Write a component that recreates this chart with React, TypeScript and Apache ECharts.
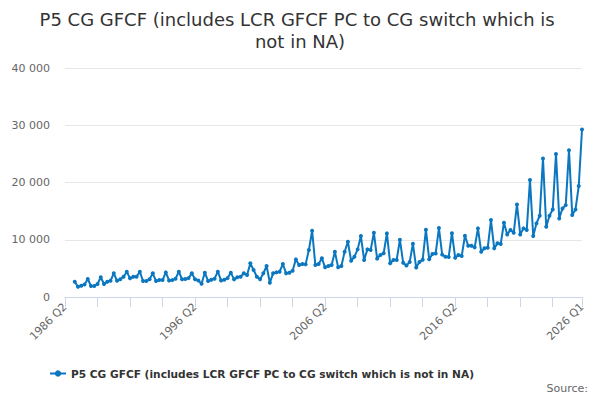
import React, { useEffect, useRef } from 'react';
import * as echarts from 'echarts';

// quarters from 1986 Q2 to 2026 Q1
const quarters: string[] = [];
for (let y = 1986; y <= 2026; y++) {
  for (let q = 1; q <= 4; q++) {
    if (y === 1986 && q < 2) continue;
    if (y === 2026 && q > 1) continue;
    quarters.push(`${y} Q${q}`);
  }
}

// P5 CG GFCF values (series starts 1987 Q1)
const gfcfValues: (number | null)[] = [
  null, null, null,
  2670, 1800, 1970, 2200, 3140, 1920, 1920, 2270, 3440, 2270,
  2670, 2840, 4130, 2840, 3090, 3540, 4420, 3260, 3540, 3540,
  4420, 2790, 2790, 3090, 4130, 2790, 2960, 2960, 4300, 2900,
  2950, 3200, 4420, 3100, 3150, 3300, 4130, 3100, 2900, 2300,
  4250, 2800, 3000, 3200, 4420, 2900, 3000, 3300, 4250, 3080,
  3440, 3540, 4130, 3840, 5880, 4710, 3540, 3090, 4130, 5410,
  2500, 4130, 4300, 4420, 5760, 4130, 4250, 4600, 6570, 5580,
  5760, 5700, 8200, 11570, 5580, 5760, 6750, 5180, 5400, 5600,
  7900, 5180, 5400, 7900, 9650, 6330, 7030, 8320, 10640, 6450,
  8320, 8200, 11220, 6700, 7330, 7630, 11110, 5880, 6460, 6460,
  10000, 6000, 5500, 6100, 9300, 5150, 6100, 6500, 11750, 6600,
  7500, 7600, 12050, 7400, 7030, 7000, 11150, 6860, 7330, 7150,
  10700, 8950, 8950, 8670, 11990, 7900, 8500, 8600, 13440, 8500,
  9370, 9250, 12970, 10930, 11690, 11220, 16170, 10930, 11990, 11690,
  20420, 10640, 12860, 14190, 24200, 12270, 14190, 15300, 24960, 13730,
  15470, 16050, 25650, 14310, 15300, 19380, 29260,
];

const seriesName = 'P5 CG GFCF (includes LCR GFCF PC to CG switch which is not in NA)';
const titleText = 'P5 CG GFCF (includes LCR GFCF PC to CG switch which is not in NA)';

const fmt = (v: number) => String(v).replace(/\B(?=(\d{3})+(?!\d))/g, ' ');

const App: React.FC = () => {
  const chartRef = useRef<HTMLDivElement>(null);

  useEffect(() => {
    if (!chartRef.current) return;
    const chart = echarts.init(chartRef.current, undefined, { renderer: 'svg' });
    const last = quarters.length - 1;

    chart.setOption({
      animation: false,
      textStyle: { fontFamily: 'DejaVu Sans' },
      title: [
        {
          text: titleText,
          left: 'center',
          top: 3,
          textStyle: {
            fontSize: 18,
            fontWeight: 'normal',
            color: '#333333',
            width: 535,
            overflow: 'break',
            lineHeight: 22,
            fontFamily: 'DejaVu Sans',
          },
        },
        {
          text: 'Source:',
          right: 7,
          top: 378,
          textStyle: { fontSize: 11, fontWeight: 'normal', color: '#666666' },
        },
      ],
      legend: {
        bottom: 16,
        left: 44,
        itemWidth: 16,
        itemHeight: 8,
        itemGap: 6,
        textStyle: { fontSize: 10.6, fontWeight: 'bold', color: '#333333' },
        data: [seriesName],
      },
      grid: { left: 65, right: 18, top: 68, bottom: 103 },
      xAxis: {
        type: 'category',
        data: quarters,
        boundaryGap: false,
        axisLine: { lineStyle: { color: '#ccd6eb' } },
        axisTick: {
          length: 10,
          lineStyle: { color: '#ccd6eb' },
          interval: (i: number) => i % 10 === 0 || i === last,
        },
        axisLabel: {
          rotate: 45,
          fontSize: 11,
          color: '#666666',
          margin: 8,
          interval: (i: number) => i % 40 === 0 || i === last,
        },
      },
      yAxis: {
        type: 'value',
        min: 0,
        max: 40000,
        interval: 10000,
        axisLine: { show: false },
        axisTick: { show: false },
        splitLine: { lineStyle: { color: '#e6e6e6' } },
        axisLabel: { fontSize: 11, color: '#666666', margin: 15, formatter: fmt },
      },
      series: [
        {
          name: seriesName,
          type: 'line',
          data: gfcfValues,
          color: '#0a77c0',
          lineStyle: { width: 2 },
          symbol: 'circle',
          symbolSize: 4,
          showSymbol: true,
          showAllSymbol: true,
        },
      ],
    });

    return () => {
      chart.dispose();
    };
  }, []);

  return <div ref={chartRef} style={{ width: '600px', height: '400px', margin: '-8px' }} />;
};

export default App;
